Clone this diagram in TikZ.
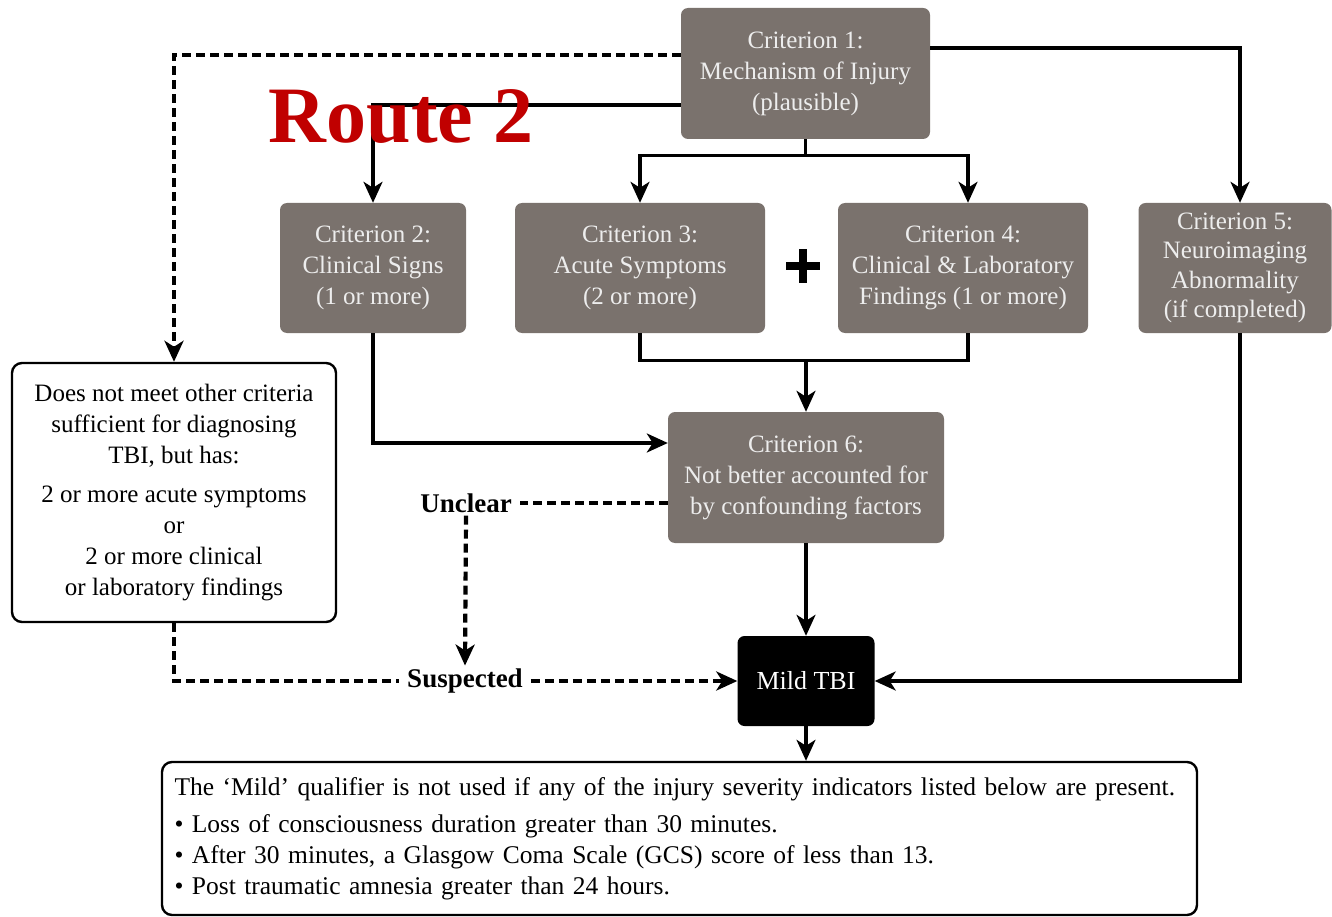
\documentclass[tikz,border=0pt]{standalone}
\usepackage{fontspec}
\setmainfont{Liberation Serif}
\usetikzlibrary{arrows.meta,calc}
\definecolor{boxgray}{HTML}{7A726D}
\definecolor{boxtext}{HTML}{EDEDED}
\definecolor{routered}{HTML}{C00000}
\begin{document}
\begin{tikzpicture}[x=1pt,y=-1pt,
  critbox/.style={rectangle,rounded corners=7pt,fill=boxgray,text=boxtext,align=center,
    inner sep=0pt,font=\fontsize{25}{31}\selectfont},
  outbox/.style={rectangle,rounded corners=10pt,draw=black,line width=2.4pt,fill=white,
    inner sep=0pt,font=\fontsize{25}{31}\selectfont},
  flow/.style={line width=3.2pt},
  tip/.style={-{Stealth[length=21pt,width=19pt,inset=6pt]}},
  dashflow/.style={line width=4.2pt,dash pattern=on 9pt off 5pt},
  tag/.style={font=\fontsize{27}{30}\selectfont\bfseries,inner xsep=8pt,inner ysep=3pt}]
\useasboundingbox (0,0) rectangle (1332,917);
\fill[white] (0,0) rectangle (1332,917);

% criteria boxes
\node[critbox,minimum width=249pt,minimum height=131pt] (c1) at (805.5,73.5)
  {Criterion 1:\\Mechanism of Injury\\(plausible)};
\node[critbox,minimum width=186pt,minimum height=130pt] (c2) at (373,268)
  {Criterion 2:\\Clinical Signs\\(1 or more)};
\node[critbox,minimum width=250pt,minimum height=130pt] (c3) at (640,268)
  {Criterion 3:\\Acute Symptoms\\(2 or more)};
\node[critbox,minimum width=250pt,minimum height=130pt] (c4) at (963,268)
  {Criterion 4:\\Clinical \& Laboratory\\Findings (1 or more)};
\node[critbox,minimum width=193pt,minimum height=130pt,font=\fontsize{25}{29.5}\selectfont] (c5) at (1235,268)
  {Criterion 5:\\Neuroimaging\\Abnormality\\(if completed)};
\node[critbox,minimum width=276pt,minimum height=131pt] (c6) at (806,477.5)
  {Criterion 6:\\Not better accounted for\\by confounding factors};
\node[rectangle,rounded corners=7pt,fill=black,text=white,inner sep=0pt,
  minimum width=137pt,minimum height=90pt,font=\fontsize{26}{31}\selectfont] (mild) at (806,681) {Mild TBI};

% heavy plus sign between criteria 3 and 4
\fill (803,266) ++(-17,-4) rectangle ++(34,8);
\fill (803,266) ++(-4,-17) rectangle ++(8,34);

% side and result boxes
\node[outbox,minimum width=324pt,minimum height=259pt,align=center] (alt) at (174,492.5)
  {Does not meet other criteria\\sufficient for diagnosing\\TBI, but has:\\[8pt]
   2 or more acute symptoms\\or\\2 or more clinical\\or laboratory findings};
\node[outbox,minimum width=1035pt,minimum height=153pt,align=left,text width=1010pt,
  font=\fontsize{25.5}{31}\selectfont] (note) at (679.5,838.5)
  {The `Mild' qualifier is not used if any of the injury severity indicators listed below are present.\\[6pt]
   \textbullet\ Loss of consciousness duration greater than 30 minutes.\\
   \textbullet\ After 30 minutes, a Glasgow Coma Scale (GCS) score of less than 13.\\
   \textbullet\ Post traumatic amnesia greater than 24 hours.};

% solid connectors
\draw[flow,tip] ([yshift=25.5pt]c1.east) -| ([xshift=5pt]c5.north);
\draw[flow] (c1.south) -- ++(0,16) coordinate (split);
\draw[flow,tip] (split) -| (c3.north);
\draw[flow,tip] (split) -| ([xshift=5pt]c4.north);
\draw[flow,tip] ([yshift=-31.5pt]c1.west) -| (c2.north);
\draw[flow] (c3.south) -- ++(0,27) coordinate (joinl) -| ([xshift=5pt]c4.south);
\draw[flow,tip] (c6.north |- joinl) -- (c6.north);
\draw[flow,tip] (c2.south) |- ([yshift=34.5pt]c6.west);
\draw[flow,tip] (c6.south) -- (mild.north);
\draw[flow,tip] ([xshift=5pt]c5.south) |- (mild.east);
\draw[flow,tip] (mild.south) -- (mild.south |- note.north);

% dashed route
\node[tag] (unclear) at (466,503) {Unclear};
\node[tag] (susp) at (465,681) {Suspected};
\draw[dashflow,tip] ([yshift=18.5pt]c1.west) -| (alt.north);
\draw[dashflow] ([yshift=-25.5pt]c6.west) -- (unclear.east);
\draw[dashflow,tip] (unclear.south) -- (susp.north);
\draw[dashflow] (alt.south) |- (susp.west);
\draw[dashflow,tip] (susp.east) -- (mild.west);

% route label
\node[font=\fontsize{80}{80}\selectfont\bfseries,text=routered,inner sep=0pt,anchor=base] (route) at (401,143) {Route 2};
\end{tikzpicture}
\end{document}
